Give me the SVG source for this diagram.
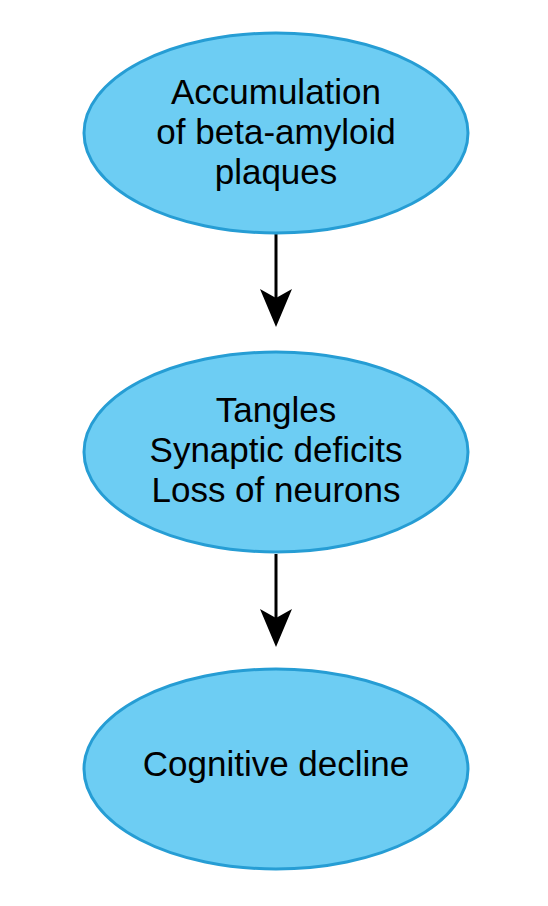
<svg xmlns="http://www.w3.org/2000/svg" width="548" height="906" viewBox="0 0 548 906">
<style>
.node ellipse{fill:#6dcdf3;stroke:#269dd4;stroke-width:3}
.node text{font-family:"Liberation Sans",Arial,Helvetica,sans-serif;font-size:35px;fill:#000;text-anchor:middle}
.edge{stroke:#000;stroke-width:3;fill:none;marker-end:url(#arrow)}
</style>
<defs>
<marker id="arrow" markerUnits="userSpaceOnUse" markerWidth="60" markerHeight="60" refX="0" refY="0" orient="auto" overflow="visible">
<path d="M28,0 L-10,-16 L-1,0 L-10,16 Z" fill="#000"/>
</marker>
</defs>
<rect width="548" height="906" fill="#fff"/>
<g id="connectors">
<line class="edge" x1="276" y1="234" x2="276" y2="299"/>
<line class="edge" x1="276" y1="554" x2="276" y2="619"/>
</g>
<g id="node-plaques" class="node">
<ellipse cx="276" cy="133" rx="192" ry="100"/>
<text x="276" y="104">Accumulation</text>
<text x="276" y="144">of beta-amyloid</text>
<text x="276" y="184">plaques</text>
</g>
<g id="node-tangles" class="node">
<ellipse cx="276" cy="452" rx="192" ry="100"/>
<text x="276" y="422">Tangles</text>
<text x="276" y="462">Synaptic deficits</text>
<text x="276" y="502">Loss of neurons</text>
</g>
<g id="node-decline" class="node">
<ellipse cx="276" cy="769" rx="192" ry="100"/>
<text x="276" y="776">Cognitive decline</text>
</g>
</svg>
